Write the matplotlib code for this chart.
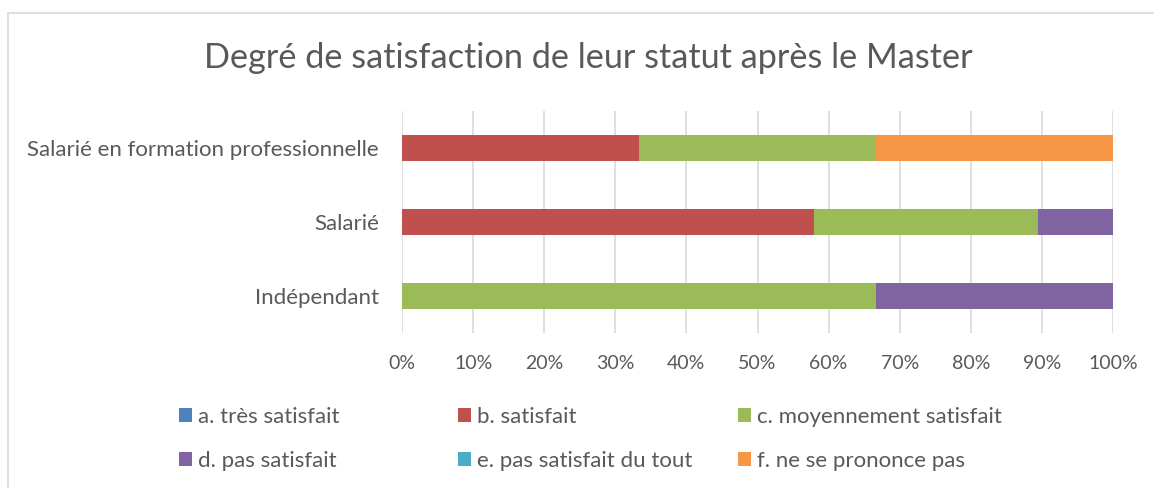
import matplotlib
matplotlib.use("Agg")
import matplotlib.pyplot as plt
import numpy as np
from matplotlib.lines import Line2D

plt.rcParams['font.family'] = ['Lato', 'DejaVu Sans']

categories = ["Indépendant", "Salarié", "Salarié en formation professionnelle"]
series_names = ["a. très satisfait", "b. satisfait", "c. moyennement satisfait",
                "d. pas satisfait", "e. pas satisfait du tout", "f. ne se prononce pas"]
a_tres = [0.0, 0.0, 0.0]
b_sat = [0.0, 57.9, 33.3]
c_moy = [66.7, 31.6, 33.3]
d_pas = [33.3, 10.5, 0.0]
e_pastout = [0.0, 0.0, 0.0]
f_nsp = [0.0, 0.0, 33.4]
colors = ["#4F81BD", "#C0504D", "#9BBB59", "#8064A2", "#4BACC6", "#F79646"]
xticks = [0, 10, 20, 30, 40, 50, 60, 70, 80, 90, 100]
xticklabels = [f"{t}%" for t in xticks]
title = "Degré de satisfaction de leur statut après le Master"

txt = "#595959"
fig = plt.figure(figsize=(11.54, 4.88), dpi=100)
ax = fig.add_axes([402/1154, 1-333/488, (1113-402)/1154, 222/488])

y = np.arange(len(categories))
left = np.zeros(len(categories))
handles = []
for name, vals, col in zip(series_names, [a_tres, b_sat, c_moy, d_pas, e_pastout, f_nsp], colors):
    vals = np.array(vals)
    h = ax.barh(y, vals, left=left, height=0.35, color=col, label=name, zorder=3)
    handles.append(h)
    left = left + vals

ax.set_xlim(0, 100)
ax.set_ylim(-0.5, 2.5)
ax.set_xticks(xticks)
ax.set_xticklabels(xticklabels, fontsize=14, color=txt)
ax.set_yticks(y)
ax.set_yticklabels(categories, fontsize=16, color=txt)
ax.tick_params(axis='both', length=0)
ax.tick_params(axis='x', pad=16)
ax.tick_params(axis='y', pad=16.5)
ax.grid(axis='x', color='#d9d9d9', linewidth=1.2, zorder=0)
for s in ax.spines.values():
    s.set_visible(False)

fig.text(588/1154, 1-58/488, title, ha='center', va='center', fontsize=24.7, color=txt)

# legends: three columns, two rows
col_x = [179/1154, 458/1154, 738/1154]
for ci in range(3):
    hs = [handles[ci], handles[ci+3]]
    leg = fig.legend(hs, [series_names[ci], series_names[ci+3]], loc='center left',
                     bbox_to_anchor=(col_x[ci], 1-439/488), frameon=False,
                     fontsize=16, handlelength=0.6, handleheight=0.6,
                     handletextpad=0.27, labelspacing=1.08, borderaxespad=0, borderpad=0)
    for t in leg.get_texts():
        t.set_color(txt)

# chart border (left & top visible)
fig.add_artist(Line2D([8/1154, 8/1154], [0, 1-13/488], transform=fig.transFigure, color='#d9d9d9', lw=1.2))
fig.add_artist(Line2D([8/1154, 1], [1-13/488, 1-13/488], transform=fig.transFigure, color='#d9d9d9', lw=1.2))

fig.savefig("out.png", dpi=100)
